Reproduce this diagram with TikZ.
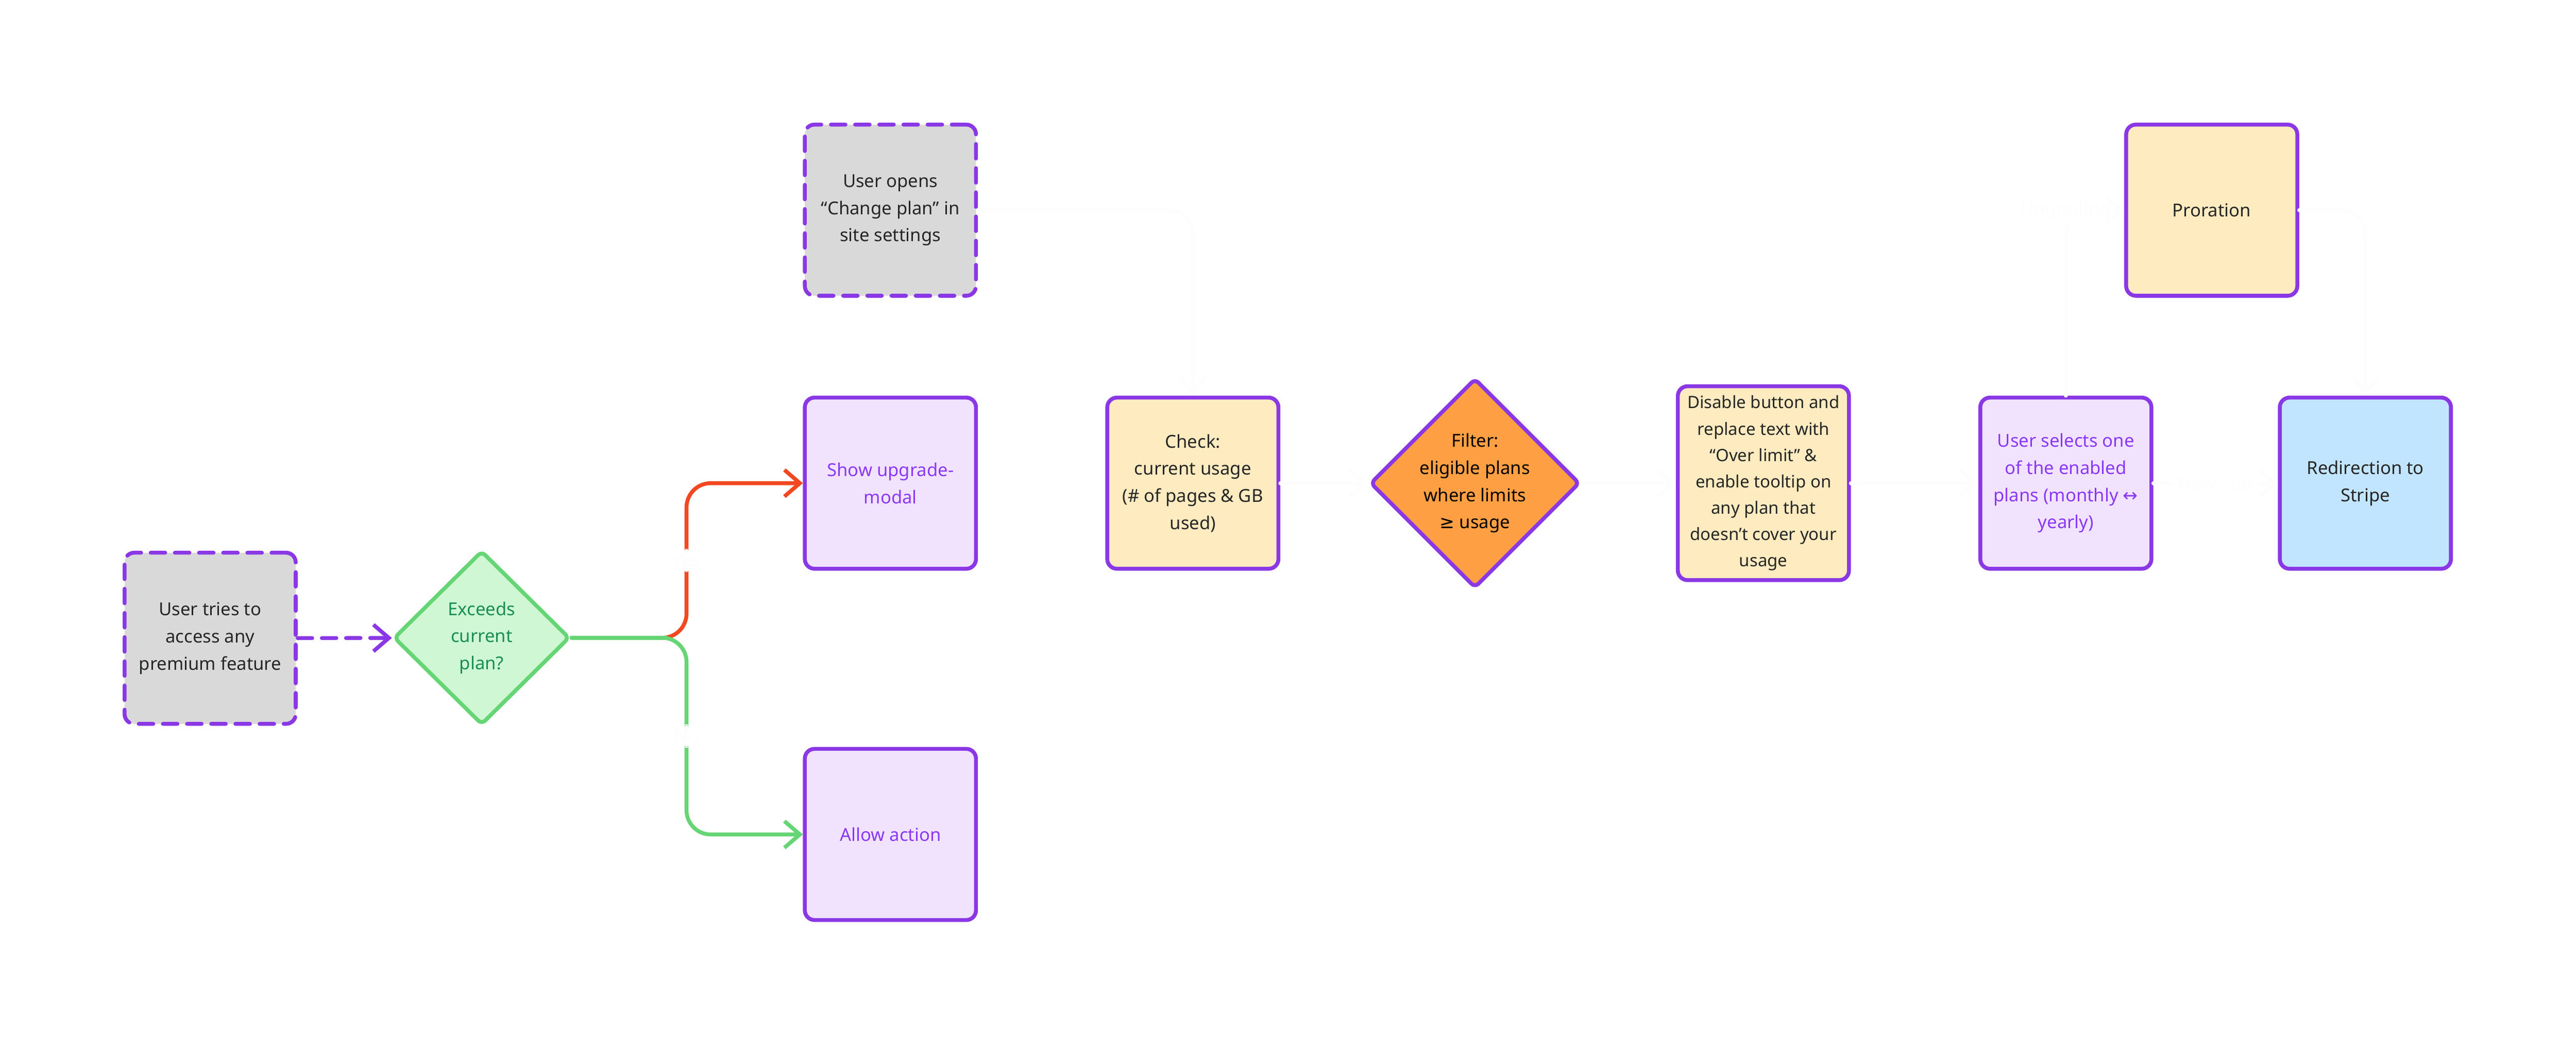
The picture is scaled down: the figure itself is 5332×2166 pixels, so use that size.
\documentclass[tikz,border=0pt]{standalone}
\usepackage{fontspec}
\setmainfont{Noto Sans}
\newfontfamily\symf{DejaVu Sans}
\usetikzlibrary{arrows.meta,shapes.geometric}
\definecolor{pur}{HTML}{8A38E5}
\definecolor{ptext}{HTML}{8A38F5}
\definecolor{gfill}{HTML}{D9D9D9}
\definecolor{lav}{HTML}{F1E3FD}
\definecolor{yel}{HTML}{FEEBC0}
\definecolor{org}{HTML}{FF9F43}
\definecolor{blu}{HTML}{C2E5FF}
\definecolor{gline}{HTML}{66D575}
\definecolor{gbg}{HTML}{CFF7D3}
\definecolor{gtxt}{HTML}{198F51}
\definecolor{red}{HTML}{F24822}
\definecolor{ghost}{HTML}{FDFDFE}
\begin{document}
\begin{tikzpicture}[x=0.01cm,y=-0.01cm,
  font=\fontsize{10.5}{16}\selectfont,
  box/.style={draw=pur,line width=2.3pt,rounded corners=0.2cm,minimum width=3.54cm,minimum height=3.54cm,align=center,text=black!85,inner sep=2pt},
  dbox/.style={box,fill=gfill,dash pattern=on 0.3cm off 0.2cm,line cap=round},
  dia/.style={diamond,draw=pur,line width=2.3pt,rounded corners=0.1cm,align=center,inner sep=0pt},
  tip/.style={-{Straight Barb[length=0.32cm,width=0.55cm,line width=2.3pt]}},
  con/.style={line width=2.3pt,line cap=round,rounded corners=0.5cm},
  ghostl/.style={con,ghost,tip},
  lbl/.style={fill=white,text=ghost,inner sep=3pt}]
\useasboundingbox (0,0) rectangle (5332,2166);
\node[dbox] (start) at (435,1321) {User tries to\\access any\\premium feature};
\node[dia,draw=gline,fill=gbg,text=gtxt,minimum width=3.64cm,minimum height=3.6cm] (ex) at (997,1320) {Exceeds\\current\\plan?};
\node[dbox] (chg) at (1843,435) {User opens\\“Change plan” in\\site settings};
\node[box,fill=lav,text=ptext] (up) at (1843,1000) {Show upgrade-\\modal};
\node[box,fill=lav,text=ptext] (allow) at (1843,1727) {Allow action};
\node[box,fill=yel] (chk) at (2469,1000) {Check:\\current usage\\(\# of pages \& GB\\used)};
\node[dia,fill=org,minimum width=4.3cm,minimum height=4.2cm] (flt) at (3053,1000) {Filter:\\eligible plans\\where limits\\{\symf ≥} usage};
\node[box,fill=yel,minimum height=4.01cm,font=\fontsize{10}{15.5}\selectfont] (dis) at (3650,1000) {Disable button and\\replace text with\\“Over limit” \&\\enable tooltip on\\any plan that\\doesn’t cover your\\usage};
\node[box,fill=lav,text=ptext] (sel) at (4276,1000) {User selects one\\of the enabled\\plans (monthly {\symf ↔}\\yearly)};
\node[box,fill=blu] (str) at (4896,1000) {Redirection to\\Stripe};
\node[box,fill=yel] (pro) at (4578,435) {Proration};
% visible connectors
\draw[con,pur,tip,dash pattern=on 0.3cm off 0.2cm] (start) -- (ex);
\coordinate (j) at (1421,1320);
\draw[con,red,tip] (ex.east) -- (j) |- node[pos=0.25,lbl]{Yes} (up.west);
\draw[con,gline,tip] (ex.east) -- (j) |- node[pos=0.25,lbl]{No} (allow.west);
\draw[con,gline] (ex.east) -- (1380,1320);
% near-invisible connectors
\draw[ghostl] (chg.east) -| (chk.north);
\draw[ghostl] (chk) -- (flt);
\draw[ghostl] (flt) -- (dis);
\draw[ghostl] (dis) -- (sel);
\draw[ghostl] (sel) -- node[lbl]{New Sub} (str);
\draw[ghostl] (sel.north) |- node[pos=0.5,lbl]{Upgrading} (pro.west);
\draw[ghostl] (pro.east) -| (str.north);
\end{tikzpicture}
\end{document}
